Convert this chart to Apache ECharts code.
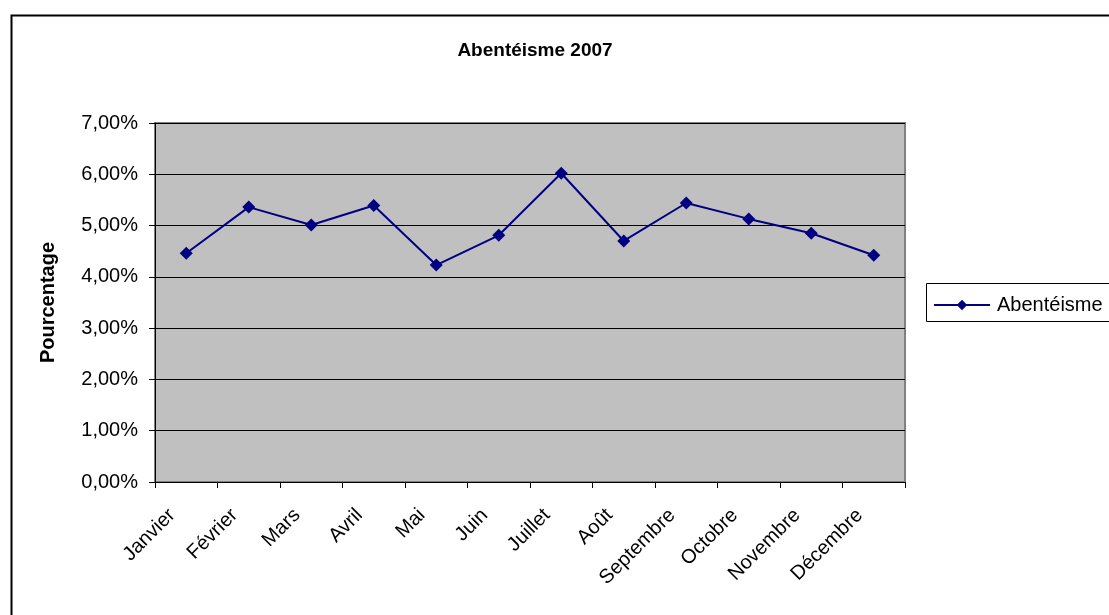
<!DOCTYPE html>
<html>
<head>
<meta charset="utf-8">
<script src="https://cdn.jsdelivr.net/npm/echarts@6/dist/echarts.min.js"></script>
<style>
html, body { margin: 0; padding: 0; background: #fff; }
#main { width: 1109px; height: 615px; }
</style>
</head>
<body>
<div id="main"></div>
<script>
let months = ['Janvier', 'Février', 'Mars', 'Avril', 'Mai', 'Juin', 'Juillet', 'Août', 'Septembre', 'Octobre', 'Novembre', 'Décembre'];
let absence = [4.46, 5.36, 5.01, 5.39, 4.23, 4.81, 6.02, 4.70, 5.44, 5.13, 4.85, 4.42];
let yTicks = [0, 1, 2, 3, 4, 5, 6, 7];

let font = 'Liberation Sans, Arial, sans-serif';
let myChart = echarts.init(document.getElementById('main'));

let option = {
    backgroundColor: '#fff',
    animation: false,
    title: {
        text: 'Abentéisme 2007',
        left: 530,
        top: 36,
        textAlign: 'center',
        textStyle: { fontFamily: font, fontSize: 19, fontWeight: 'bold', color: '#000' }
    },
    // cadre exterieur + cadre de la legende
    graphic: [
        {
            type: 'rect', left: 9, top: 13, z: -1,
            shape: { width: 1200, height: 700 },
            style: { fill: 'none', stroke: '#000', lineWidth: 2 }
        },
        {
            type: 'rect', left: 926, top: 283,
            shape: { width: 300, height: 38 },
            style: { fill: '#fff', stroke: '#000', lineWidth: 1 }
        }
    ],
    legend: {
        data: ['Abentéisme'],
        left: 928,
        top: 290,
        itemWidth: 56,
        itemHeight: 13,
        itemGap: 4,
        textStyle: { fontFamily: font, fontSize: 20, color: '#000', padding: [0, 0, 0, 2] },
        z: 10
    },
    grid: {
        left: 155,
        right: 204,
        top: 123,
        bottom: 133,
        show: true,
        backgroundColor: '#C0C0C0',
        borderColor: '#808080',
        borderWidth: 2
    },
    xAxis: {
        type: 'category',
        data: months,
        boundaryGap: true,
        axisLine: { lineStyle: { color: '#000', width: 1 } },
        axisTick: { show: true, length: 6, inside: false, lineStyle: { color: '#000' } },
        axisLabel: {
            rotate: 45,
            interval: 0,
            margin: 16,
            padding: [0, 20, 0, 0],
            fontFamily: font,
            fontSize: 20,
            color: '#000'
        }
    },
    yAxis: {
        type: 'value',
        min: yTicks[0],
        max: yTicks[yTicks.length - 1],
        interval: 1,
        name: 'Pourcentage',
        nameLocation: 'middle',
        nameGap: 97,
        nameTextStyle: { fontFamily: font, fontSize: 20, fontWeight: 'bold', color: '#000' },
        axisLine: { show: true, lineStyle: { color: '#000', width: 1 } },
        axisTick: { show: true, length: 6, lineStyle: { color: '#000' } },
        splitLine: { show: true, lineStyle: { color: '#000', width: 1 } },
        axisLabel: {
            margin: 17,
            fontFamily: font,
            fontSize: 20,
            color: '#000',
            formatter: function (v) {
                return v.toFixed(2).replace('.', ',') + '%';
            }
        }
    },
    series: [
        {
            name: 'Abentéisme',
            type: 'line',
            data: absence,
            symbol: 'diamond',
            symbolSize: 13,
            lineStyle: { color: '#000080', width: 2 },
            itemStyle: { color: '#000080' }
        }
    ]
};
myChart.setOption(option);
</script>
</body>
</html>
